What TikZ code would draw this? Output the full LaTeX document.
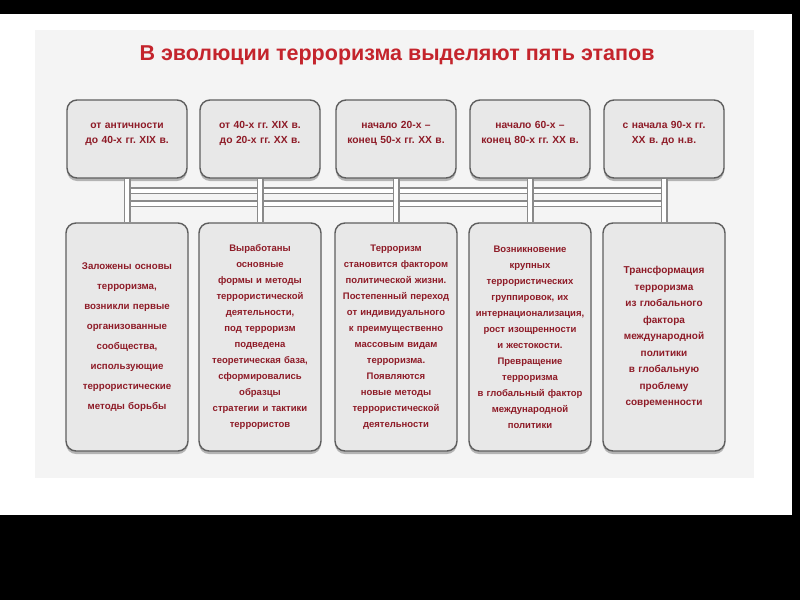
\documentclass[tikz,border=0pt]{standalone}
\usepackage{fontspec}
\newfontfamily\narrowsf{Liberation Sans}
\usetikzlibrary{shadows}
\frenchspacing
\definecolor{panelgray}{HTML}{F4F4F4}
\definecolor{boxgray}{HTML}{E8E8E8}
\definecolor{rimgray}{HTML}{5E5E5E}
\definecolor{pipegray}{HTML}{8A8A8A}
\definecolor{titlered}{HTML}{C4242C}
\definecolor{textred}{HTML}{8E1B27}

\begin{document}
\begin{tikzpicture}[x=1pt,y=-1pt,
 stage/.style={draw=rimgray,line width=1.4pt,fill=boxgray,rounded corners=10pt,
  drop shadow={shadow xshift=0pt,shadow yshift=-3pt,opacity=.45,fill=black!60},
  inner sep=2pt,align=center,text=textred},
 period/.style={stage,minimum width=120pt,minimum height=78pt,text width=114pt,
  text height=5.6pt,text depth=27.5pt,
  font=\narrowsf\bfseries\fontsize{10.3}{15}\selectfont},
 summary/.style={stage,minimum width=122pt,minimum height=228pt,text width=116pt,
  font=\narrowsf\bfseries\fontsize{9.5}{16}\selectfont},
 pipe/.style={line width=7pt,pipegray},
 pipecore/.style={line width=3.6pt,white}]
\fill[black] (0,0) rectangle (800,600);
\fill[white] (0,14) rectangle (792,515);
\fill[panelgray] (35,30) rectangle (754,478);
\node[font=\narrowsf\bfseries\fontsize{21.5}{24}\selectfont,text=titlered] (title) at (397,55) {В эволюции терроризма выделяют пять этапов};
% periods
\node[period] (Per-1) at (127,139) {от античности\\до 40-х гг. XIX в.};
\node[period] (Per-2) at (260,139) {от 40-х гг. XIX в.\\до 20-х гг. XX в.};
\node[period] (Per-3) at (396,139) {начало 20-х –\\конец 50-х гг. XX в.};
\node[period] (Per-4) at (530,139) {начало 60-х –\\конец 80-х гг. XX в.};
\node[period] (Per-5) at (664,139) {с начала 90-х гг.\\XX в. до н.в.};
% what happened
\node[summary,font=\narrowsf\bfseries\fontsize{9.7}{20}\selectfont] (Sum-1) at (127,337) {Заложены основы\\терроризма,\\возникли первые\\организованные\\сообщества,\\использующие\\террористические\\методы борьбы};
\node[summary] (Sum-2) at (260,337) {Выработаны\\основные\\формы и методы\\террористической\\деятельности,\\под терроризм\\подведена\\теоретическая база,\\сформировались\\образцы\\стратегии и тактики\\террористов};
\node[summary] (Sum-3) at (396,337) {Терроризм\\становится фактором\\политической жизни.\\Постепенный переход\\от индивидуального\\к преимущественно\\массовым видам\\терроризма.\\Появляются\\новые методы\\террористической\\деятельности};
\node[summary] (Sum-4) at (530,337) {Возникновение\\крупных\\террористических\\группировок, их\\интернационализация,\\рост изощренности\\и жестокости.\\Превращение\\терроризма\\в глобальный фактор\\международной\\политики};
\node[summary,font=\narrowsf\bfseries\fontsize{10}{16.5}\selectfont] (Sum-5) at (664,337) {Трансформация\\терроризма\\из глобального\\фактора\\международной\\политики\\в глобальную\\проблему\\современности};
% pipes
\coordinate (busA-w) at ([yshift=-12pt]Per-1.south);\coordinate (busA-e) at ([yshift=-12pt]Per-5.south);
\coordinate (busB-w) at ([yshift=-25pt]Per-1.south);\coordinate (busB-e) at ([yshift=-25pt]Per-5.south);
\draw[pipe] (busA-w)--(busA-e) (busB-w)--(busB-e);
\draw[pipecore] (busA-w)--(busA-e) (busB-w)--(busB-e);
\foreach \i in {1,...,5} \draw[pipe] (Per-\i.south)--(Sum-\i.north);
\foreach \i in {1,...,5} \draw[pipecore] (Per-\i.south)--(Sum-\i.north);
\end{tikzpicture}
\end{document}
